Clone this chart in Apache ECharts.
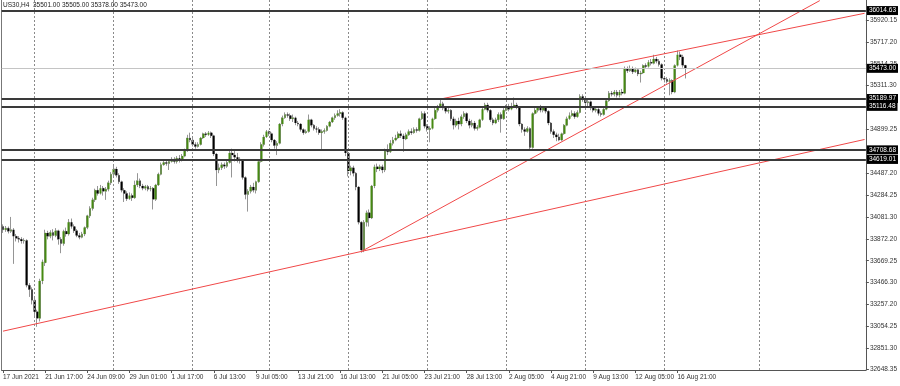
<!DOCTYPE html>
<html><head><meta charset="utf-8">
<script src="https://cdn.jsdelivr.net/npm/echarts@6/dist/echarts.min.js"></script>
<style>html,body{margin:0;padding:0;background:#fff}#c{width:900px;height:386px}</style>
</head><body><div id="c"></div>
<script>
const titleText = 'US30,H4  35501.00 35505.00 35378.00 35473.00';
const xTickLabels = ['17 Jun 2021','21 Jun 17:00','24 Jun 09:00','29 Jun 01:00','1 Jul 17:00','6 Jul 13:00','9 Jul 05:00','13 Jul 21:00','16 Jul 13:00','21 Jul 05:00','23 Jul 21:00','28 Jul 13:00','2 Aug 05:00','4 Aug 21:00','9 Aug 13:00','12 Aug 05:00','16 Aug 21:00'];
const tickEvery = 16;
const slotCount = 328;
const categories = Array.from({length: slotCount}, (_, i) => String(i));
// [open, close, low, high]
const candles = [
[33990,33960,33930,34010],[33960,33975,33940,33995],[33975,33945,33925,33990],[33945,33960,33930,34080],[33960,33900,33640,33975],
[33900,33880,33850,33920],[33880,33870,33840,33900],[33870,33855,33830,33890],[33855,33860,33830,33880],[33860,33440,33420,33870],
[33440,33400,33330,33460],[33400,33300,33260,33420],[33300,33190,33150,33320],[33190,33130,33050,33210],[33130,33480,33100,33500],
[33480,33660,33450,33680],[33650,33930,33620,33960],[33930,33900,33870,33950],[33900,33935,33880,33955],[33935,33905,33860,33965],
[33905,33950,33890,33975],[33950,33870,33820,33960],[33870,33830,33740,33890],[33830,33945,33810,33960],[33945,33920,33895,33980],
[33920,34030,33905,34060],[34030,33990,33970,34065],[33990,33950,33930,34010],[33950,33905,33890,33965],[33905,33890,33870,33930],
[33890,33920,33880,33940],[33920,33980,33900,33990],[33980,34090,33965,34100],[34090,34160,34070,34180],[34160,34240,34140,34260],
[34240,34330,34220,34345],[34330,34300,34280,34370],[34300,34350,34290,34380],[34350,34320,34280,34370],[34320,34340,34240,34360],
[34340,34400,34320,34420],[34400,34480,34380,34500],[34480,34530,34460,34560],[34530,34470,34450,34550],[34470,34410,34390,34490],
[34410,34330,34310,34420],[34330,34300,34220,34350],[34300,34250,34230,34320],[34250,34280,34240,34310],[34280,34260,34230,34300],
[34260,34380,34250,34420],[34380,34420,34360,34490],[34420,34370,34350,34440],[34370,34350,34330,34390],[34350,34365,34330,34380],
[34365,34340,34320,34380],[34340,34350,34320,34370],[34350,34245,34150,34360],[34245,34380,34230,34390],[34380,34480,34370,34495],
[34480,34570,34470,34590],[34570,34590,34560,34610],[34590,34580,34560,34620],[34580,34600,34520,34620],[34600,34620,34590,34640],
[34620,34600,34580,34640],[34600,34630,34580,34650],[34630,34610,34590,34660],[34610,34650,34600,34670],[34650,34700,34640,34720],
[34700,34820,34690,34850],[34820,34800,34780,34870],[34800,34760,34740,34820],[34760,34740,34720,34780],[34740,34760,34730,34780],
[34760,34820,34750,34830],[34820,34860,34810,34870],[34860,34850,34830,34875],[34850,34870,34840,34885],[34870,34840,34820,34880],
[34840,34670,34650,34850],[34670,34520,34370,34680],[34520,34540,34490,34580],[34540,34570,34520,34590],[34570,34555,34530,34590],
[34555,34590,34540,34610],[34590,34680,34580,34700],[34680,34660,34450,34720],[34660,34640,34600,34700],[34640,34620,34590,34680],
[34620,34610,34580,34640],[34610,34450,34430,34620],[34450,34290,34245,34460],[34290,34320,34130,34340],[34320,34360,34300,34380],
[34360,34330,34310,34400],[34330,34410,34300,34420],[34410,34600,34400,34620],[34600,34760,34590,34780],[34760,34830,34740,34850],
[34830,34880,34820,34895],[34880,34860,34840,34890],[34860,34800,34780,34870],[34800,34750,34720,34810],[34750,34770,34660,34790],
[34770,34950,34760,34960],[34950,35010,34930,35030],[35010,35040,35000,35060],[35040,35030,35010,35060],[35030,35000,34980,35050],
[35000,35010,34970,35040],[35010,34960,34940,35020],[34960,34950,34930,34980],[34950,34900,34880,34960],[34900,34870,34850,34910],
[34870,34880,34860,34900],[34880,34990,34870,35040],[34990,34940,34920,35000],[34940,34910,34890,34950],[34910,34900,34870,34930],
[34900,34870,34850,34920],[34870,34880,34700,34900],[34880,34890,34860,34910],[34890,34930,34880,34940],[34930,34970,34920,34980],
[34970,35010,34960,35020],[35010,35030,34990,35050],[35030,35050,35020,35080],[35050,35060,35020,35090],[35060,35010,34990,35070],
[35010,34680,34650,35020],[34680,34510,34460,34700],[34510,34540,34470,34560],[34540,34490,34460,34560],[34490,34360,34330,34500],
[34360,34030,34010,34370],[34030,33770,33745,34040],[33770,34030,33750,34050],[34030,34120,33990,34140],[34120,34070,33990,34150],
[34070,34370,34060,34380],[34370,34550,34350,34570],[34550,34530,34500,34580],[34530,34550,34510,34570],[34550,34520,34490,34570],
[34520,34700,34500,34720],[34700,34690,34660,34760],[34690,34770,34680,34800],[34770,34800,34750,34830],[34800,34820,34790,34850],
[34820,34860,34810,34880],[34860,34840,34820,34890],[34840,34810,34690,34860],[34810,34850,34800,34870],[34850,34880,34840,34900],
[34880,34870,34850,34910],[34870,34900,34860,34920],[34900,34890,34870,34920],[34890,35000,34880,35010],[35000,35050,34990,35070],
[35050,34930,34910,35070],[34930,34900,34880,34950],[34900,34910,34780,34930],[34910,35000,34900,35010],[35000,35080,34990,35100],
[35080,35110,35060,35130],[35110,35140,35100,35180],[35140,35100,35080,35160],[35100,35070,35050,35120],[35070,35080,35050,35100],
[35080,35000,34980,35090],[35000,34940,34900,35020],[34940,34980,34920,35000],[34980,34950,34900,35010],[34950,35020,34930,35040],
[35020,35050,35000,35070],[35050,34980,34960,35060],[34980,34940,34910,35000],[34940,34960,34920,34990],[34960,34910,34890,34980],
[34910,34920,34890,34940],[34920,34990,34910,35000],[34990,35090,34980,35110],[35090,35130,35080,35150],[35130,35080,35060,35150],
[35080,34990,34970,35090],[34990,34960,34940,35010],[34960,34990,34950,35010],[34990,35040,34970,35060],[35040,35000,34870,35060],
[35000,35080,34990,35100],[35080,35110,35070,35130],[35110,35090,35070,35140],[35090,35120,35080,35150],[35120,35130,35100,35200],
[35130,35110,35090,35150],[35110,34950,34930,35120],[34950,34900,34870,34960],[34900,34880,34840,34920],[34880,34910,34870,34930],
[34910,34730,34700,34920],[34730,35050,34720,35060],[35050,35080,35040,35100],[35080,35100,35060,35120],[35100,35080,35060,35130],
[35080,35100,35060,35110],[35100,35070,35050,35110],[35070,34960,34940,35080],[34960,34880,34860,34970],[34880,34850,34820,34900],
[34850,34830,34790,34870],[34830,34800,34790,34860],[34800,34860,34790,34870],[34860,34940,34850,34950],[34940,35000,34930,35020],
[35000,35030,34990,35060],[35030,35050,35020,35080],[35050,35020,35000,35070],[35020,35060,35010,35080],[35060,35210,35050,35230],
[35210,35180,35160,35230],[35180,35150,35130,35200],[35150,35160,35120,35190],[35160,35100,35080,35170],[35100,35080,35060,35120],
[35080,35090,35060,35110],[35090,35050,35030,35100],[35050,35040,35020,35070],[35040,35090,35030,35100],[35090,35170,35080,35180],
[35170,35240,35160,35260],[35240,35230,35210,35260],[35230,35250,35210,35270],[35250,35220,35200,35270],[35220,35250,35200,35270],
[35250,35240,35220,35280],[35240,35470,35230,35490],[35470,35450,35430,35490],[35450,35470,35440,35500],[35470,35440,35420,35490],
[35440,35460,35430,35480],[35460,35420,35400,35470],[35420,35430,35340,35450],[35430,35500,35420,35510],[35500,35490,35470,35520],
[35490,35530,35480,35550],[35530,35520,35500,35560],[35520,35560,35510,35600],[35560,35540,35520,35580],[35540,35510,35490,35560],
[35510,35380,35360,35520],[35380,35370,35340,35400],[35370,35350,35330,35390],[35350,35360,35220,35380],[35360,35250,35230,35370],
[35250,35500,35240,35510],[35500,35600,35490,35640],[35600,35580,35550,35630],[35580,35501,35480,35600],[35501,35473,35378,35505]
];
const priceTicks = [35920.15,35717.20,35514.25,35311.30,34899.25,34487.20,34284.25,34081.30,33872.20,33669.25,33466.30,33257.20,33054.25,32851.30,32648.35];
const levelLines = [36014.63,35189.97,35116.48,34708.68,34619.01];
const bidPrice = 35473.00;
const weekStarts = [12,42,72,101,131,161,191,221,251,287];
const trendLines = [
  [[0,33009],[327,34806]],
  [[136,33756],[310,36108]],
  [[166,35185],[327,35989]]
];
const yMin = 32645, yMax = 36113.6;

const FONT = 'Liberation Sans';
const WICK = '#959595', GREEN = '#468a12', RED = '#f04848';
const boxLabel = (v) => ({show:true, position:'end', distance:1, formatter:()=>v.toFixed(2),
  color:'#fff', backgroundColor:'#000', padding:[1,2,1,2], fontSize:6.5, fontFamily:FONT});
const showTick = (i) => i % tickEvery === 0 && i / tickEvery < xTickLabels.length;

const chart = echarts.init(document.getElementById('c'));
chart.setOption({
  animation:false,
  title:{text:titleText, left:3, top:2, padding:0, textStyle:{fontSize:6.5, fontWeight:'normal', color:'#222', fontFamily:FONT}},
  grid:{left:1, top:0, width:866, height:370, show:false},
  xAxis:{type:'category', data:categories, boundaryGap:true,
    axisLine:{show:true, lineStyle:{color:'#555'}},
    axisTick:{show:true, interval:(i)=>showTick(i), alignWithLabel:true, length:3, lineStyle:{color:'#555'}},
    axisLabel:{interval:(i)=>showTick(i), formatter:(v,i)=>xTickLabels[i/tickEvery]||'', align:'left',
      fontSize:6.5, color:'#333', margin:4, fontFamily:FONT},
    splitLine:{show:false}},
  yAxis:[
    {type:'value', position:'right', min:yMin, max:yMax,
     axisLine:{show:true, lineStyle:{color:'#555'}},
     axisTick:{show:true, customValues:priceTicks, length:3, lineStyle:{color:'#555'}},
     axisLabel:{customValues:priceTicks, formatter:(v)=>Number(v).toFixed(2), fontSize:6.5, color:'#333', margin:4, fontFamily:FONT},
     splitLine:{show:false}},
    {type:'value', position:'left', min:yMin, max:yMax,
     axisLine:{show:true, lineStyle:{color:'#777'}}, axisTick:{show:false}, axisLabel:{show:false}, splitLine:{show:false}}
  ],
  series:[
    {type:'candlestick', name:'wick', data:candles, barWidth:1.4, z:2,
     itemStyle:{color:WICK, color0:WICK, borderColor:WICK, borderColor0:WICK, borderWidth:1},
     markLine:{silent:true, symbol:['none','none'], label:{show:false},
       lineStyle:{color:'#8a8a8a', type:[2,2], width:1},
       data:weekStarts.map(i=>({xAxis:i}))}},
    {type:'candlestick', name:'body', data:candles, barWidth:2.3, z:3,
     itemStyle:{color:GREEN, color0:'#000', borderColor:GREEN, borderColor0:'#000', borderWidth:0},
     markLine:{silent:true, symbol:['none','none'], label:{show:false},
       data:[
         ...trendLines.map(([a,b]) => [{coord:a, lineStyle:{color:RED, width:1, type:'solid'}, label:{show:false}}, {coord:b}]),
         ...levelLines.map(v => ({yAxis:v, lineStyle:{color:'#3a3a3a', width:2, type:'solid'}, label:boxLabel(v)})),
         {yAxis:bidPrice, lineStyle:{color:'#c4c4c4', width:1, type:'solid'}, label:boxLabel(bidPrice)}
       ]}}
  ]
});
</script>
</body></html>
